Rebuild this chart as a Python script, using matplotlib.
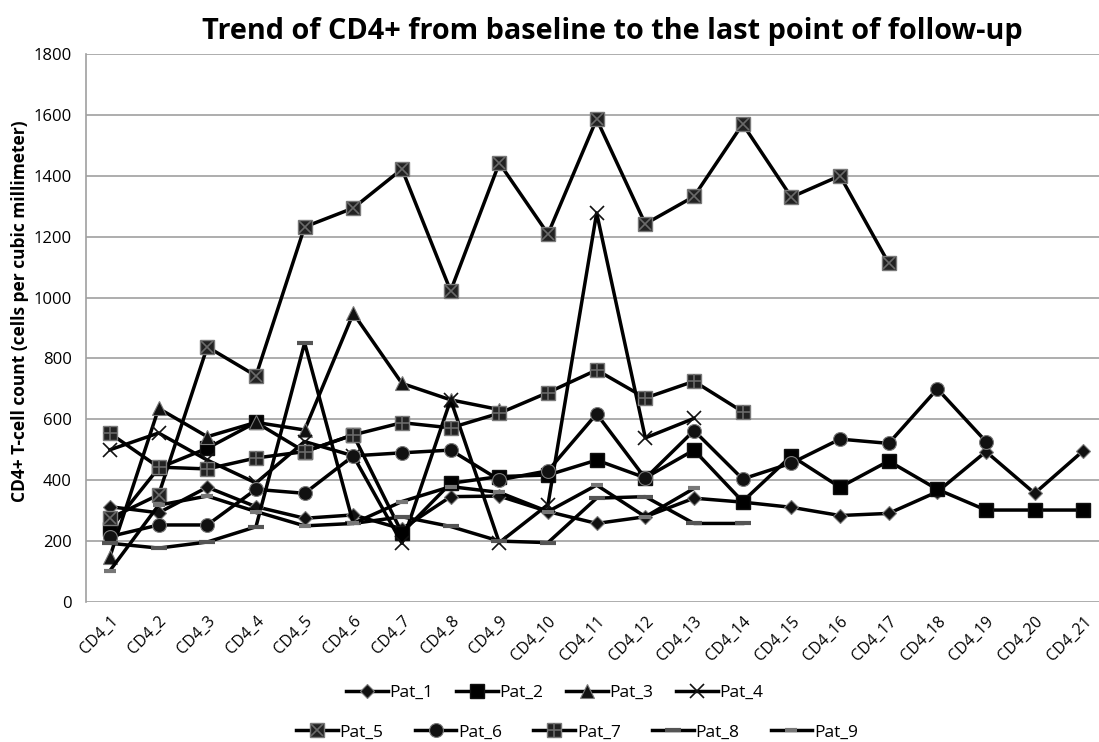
import matplotlib
matplotlib.use("Agg")
import matplotlib.pyplot as plt
from matplotlib.legend_handler import HandlerTuple

plt.rcParams['font.family'] = ['Open Sans', 'DejaVu Sans']

# data
visits = ["CD4_%d" % i for i in range(1, 22)]

pat_1 = [313, 293, 377, 313, 275, 286, 240, 346, 348, 297, 258, 280, 341, 328,
         311, 284, 291, 362, 494, 357, 497]
pat_2 = [240, 440, 505, 590, 494, 549, 227, 390, 412, 417, 466, 408, 499, 330,
         480, 377, 463, 370, 302, 302, 302]
pat_3 = [149, 636, 543, 590, 565, 948, 718, 664, 632]
pat_4 = [500, 555, 466, 391, 527, 480, 193, 664, 195, 320, 1278, 539, 603]
pat_5 = [275, 352, 838, 743, 1232, 1294, 1422, 1022, 1442, 1209, 1586, 1242,
         1332, 1570, 1330, 1400, 1113]
pat_6 = [215, 253, 253, 370, 357, 480, 490, 499, 401, 431, 618, 406, 563, 404,
         456, 535, 521, 700, 527]
pat_7 = [554, 443, 437, 473, 494, 549, 589, 572, 620, 688, 762, 670, 725, 625]
pat_8 = [193, 177, 197, 247, 851, 258, 280, 248, 200, 195, 341, 346, 258, 258]
pat_9 = [103, 318, 348, 297, 250, 258, 330, 379, 360, 297, 384, 280, 373]

fig = plt.figure(figsize=(10.99, 7.42), dpi=100)
ax = fig.add_axes([0.0779, 0.1887, 0.930, 0.7385])

lw = 2.5
dark = "#111111"
edge = "#7a7a7a"


def draw(vals, **kw):
    x = list(range(len(vals)))
    return ax.plot(x, vals, color="black", lw=lw, **kw)[0]


h1 = draw(pat_1, marker="D", ms=7, mfc=dark, mec=edge, mew=0.8)
h2 = draw(pat_2, marker="s", ms=10, mfc="black", mec=dark)
h3 = draw(pat_3, marker="^", ms=10, mfc=dark, mec=edge, mew=0.8)
h4 = draw(pat_4, marker="x", ms=10, mec=dark, mew=1.2)
h5 = draw(pat_5, marker="s", ms=10, mfc="#222222", mec=edge, mew=1)
h5b = ax.plot(range(len(pat_5)), pat_5, ls="none", marker="x", ms=8,
              mec="#6a6a6a", mew=1.2)[0]
h6 = draw(pat_6, marker="o", ms=10, mfc=dark, mec=edge, mew=0.8)
h7 = draw(pat_7, marker="s", ms=10, mfc="#222222", mec=edge, mew=1)
h7b = ax.plot(range(len(pat_7)), pat_7, ls="none", marker="+", ms=10,
              mec="#6a6a6a", mew=1.2)[0]
h8 = draw(pat_8, marker="_", ms=12, mec="#555555", mew=3)
h9 = draw(pat_9, marker="_", ms=9, mec="#777777", mew=3)

ax.set_xlim(-0.5, 20.5)
ax.set_ylim(0, 1800)
ax.set_yticks(range(0, 1801, 200))
ax.set_xticks(range(len(visits)))
ax.set_xticklabels(visits, rotation=45, ha="right", rotation_mode="anchor")
ax.tick_params(axis="both", labelsize=11.5, length=0, pad=8)
ax.tick_params(axis="y", labelsize=12, pad=10)
ax.yaxis.grid(True, color="#a0a0a0", lw=1.2)
ax.set_axisbelow(True)
for s in ["top", "right", "bottom"]:
    ax.spines[s].set_visible(False)
ax.spines["left"].set_color("#a0a0a0")
ax.spines["left"].set_linewidth(1.2)

fig.text(0.018, 0.581, "CD4+ T-cell count (cells per cubic millimeter)",
         rotation=90, ha="center", va="center", fontsize=12.5, fontweight="bold")
fig.text(0.557, 0.958, "Trend of CD4+ from baseline to the last point of follow-up",
         ha="center", va="center", fontsize=20.8, fontweight="bold")

hm = dict(numpoints=1, handlelength=2.4, handletextpad=0.1, frameon=False,
          fontsize=12.5, borderaxespad=0)
fig.legend([h1, h2, h3, h4], ["Pat_1", "Pat_2", "Pat_3", "Pat_4"],
           loc="center", bbox_to_anchor=(0.505, 0.066), ncol=4,
           columnspacing=1.3, **hm)
fig.legend([(h5, h5b), h6, (h7, h7b), h8, h9],
           ["Pat_5", "Pat_6", "Pat_7", "Pat_8", "Pat_9"],
           loc="center", bbox_to_anchor=(0.525, 0.013), ncol=5,
           columnspacing=1.8, handler_map={tuple: HandlerTuple(ndivide=1, pad=0)},
           **hm)

fig.savefig("out.png", dpi=100)
